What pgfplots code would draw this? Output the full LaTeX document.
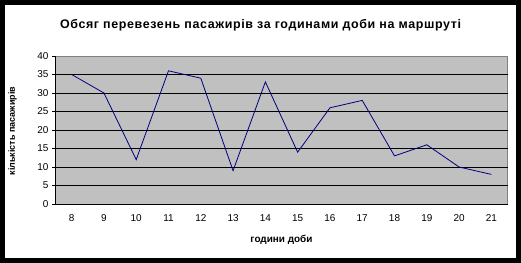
\documentclass[border=0pt]{standalone}
\usepackage{pgfplots}
\pgfplotsset{compat=1.18}
\usepackage{fontspec}
\setmainfont{Liberation Sans}
\definecolor{plotbg}{RGB}{192,192,192}
\definecolor{navyline}{RGB}{0,0,128}
\definecolor{frameg}{RGB}{128,128,128}
\begin{document}
\begin{tikzpicture}[x=1bp,y=1bp]
\fill[white] (0,0) rectangle (521,262);
\node[font=\fontsize{12.5}{14}\selectfont\bfseries\addfontfeature{LetterSpace=5}] at (260.5,237) {Обсяг перевезень пасажирів за годинами доби на маршруті};
\node[font=\fontsize{9}{11}\selectfont\bfseries, rotate=90] at (12.5,131) {кількість пасажирів};
\node[font=\fontsize{10}{12}\selectfont\bfseries] at (281.5,22) {години доби};
\begin{axis}[
  at={(55.5bp,58bp)}, anchor=south west,
  scale only axis, width=452bp, height=148bp,
  xmin=7.5, xmax=21.5, ymin=0, ymax=40,
  axis background/.style={fill=plotbg, draw=frameg},
  axis x line*=bottom, axis y line*=left,
  axis line style={black, line width=0.6bp, -},
  ytick={0,5,...,35}, extra y ticks={40}, extra y tick style={grid=none},
  ymajorgrids, grid style={black, line width=0.6bp},
  xtick={8,...,21},
  major x tick style={draw=none},
  extra x ticks={7.5,8.5,...,21.5}, extra x tick labels={},
  extra x tick style={grid=none, major tick length=3.5bp, tick align=outside, tick style={black, line width=0.6bp}},
  y tick style={black, line width=0.6bp},
  tick align=outside, major tick length=3.5bp,
  ticklabel style={font=\fontsize{10}{12}\selectfont},
  /pgf/number format/assume math mode=true,
  xticklabel style={yshift=-4bp},
  clip=false,
]
\addplot[navyline, line width=0.8bp] coordinates {
(8,35) (9,30) (10,12) (11,36) (12,34) (13,9) (14,33) (15,14) (16,26) (17,28) (18,13) (19,16) (20,10) (21,8)
};
\end{axis}
\draw[black, line width=5bp] (2.5,2) rectangle (518,259.5);
\end{tikzpicture}
\end{document}
